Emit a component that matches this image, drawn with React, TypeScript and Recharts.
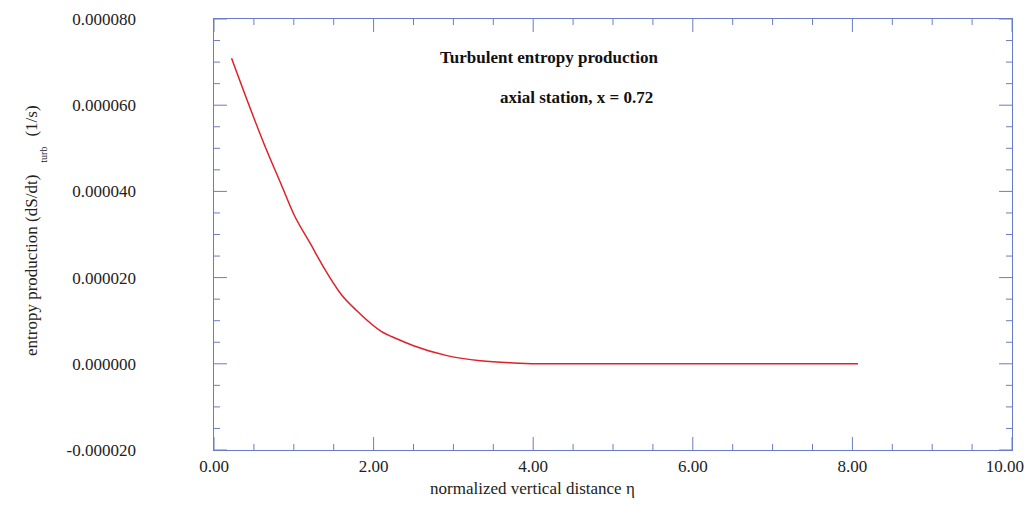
import { LineChart, Line, XAxis, YAxis, ReferenceLine } from 'recharts';

const etaValues = [0.22, 0.63, 0.84, 1.0, 1.21, 1.38, 1.59, 1.79, 2.09, 2.29, 2.5, 2.92, 3.34, 3.75, 4.2, 5.0, 6.0, 7.0, 8.07];
const entropyValues = [7.09e-5, 5.09e-5, 4.17e-5, 3.47e-5, 2.78e-5, 2.22e-5, 1.62e-5, 1.23e-5, 0.76e-5, 0.58e-5, 0.42e-5, 0.19e-5, 0.07e-5, 0.02e-5, 0, 0, 0, 0, 0];
const xMajor = [0, 2, 4, 6, 8, 10];
const xMinor = [0.5, 1, 1.5, 2.5, 3, 3.5, 4.5, 5, 5.5, 6.5, 7, 7.5, 8.5, 9, 9.5];
const yMajor = [-0.00002, 0, 0.00002, 0.00004, 0.00006, 0.00008];
const yMinor = [-0.000015, -0.00001, -0.000005, 0.000005, 0.00001, 0.000015, 0.000025, 0.00003, 0.000035, 0.000045, 0.00005, 0.000055, 0.000065, 0.00007, 0.000075];

const data = etaValues.map((eta, i) => ({ eta, s: entropyValues[i] }));
const axisColor = '#6a7cc8';
const font = '"Liberation Serif", "DejaVu Serif", serif';

// tick lengths in data units (plot is 10 units / 799px wide, 1e-4 / 432px tall)
const xLen = (px: number) => (px * 10) / 799;
const yLen = (px: number) => (px * 1e-4) / 432;

export default function App() {
  const tickStyle = { fill: '#222', fontSize: 17, fontFamily: font };
  const xTick = (v: number, px: number) => [
    <ReferenceLine key={'b' + v} segment={[{ x: v, y: -0.00002 }, { x: v, y: -0.00002 + yLen(px) }]} stroke={axisColor} ifOverflow="visible" />,
    <ReferenceLine key={'t' + v} segment={[{ x: v, y: 0.00008 }, { x: v, y: 0.00008 - yLen(px) }]} stroke={axisColor} ifOverflow="visible" />,
  ];
  const yTick = (v: number, px: number) => [
    <ReferenceLine key={'l' + v} segment={[{ x: 0, y: v }, { x: xLen(px), y: v }]} stroke={axisColor} ifOverflow="visible" />,
    <ReferenceLine key={'r' + v} segment={[{ x: 10, y: v }, { x: 10 - xLen(px), y: v }]} stroke={axisColor} ifOverflow="visible" />,
  ];
  return (
    <div style={{ position: 'absolute', left: 0, top: 0, width: 1024, height: 506, background: '#fff', fontFamily: font }}>
      <LineChart width={1024} height={506} data={data} margin={{ top: 19, right: 12, bottom: 0, left: 64 }}>
        <XAxis type="number" dataKey="eta" domain={[0, 10]} ticks={xMajor} tickFormatter={(v) => v.toFixed(2)}
          axisLine={false} tickLine={false} tick={tickStyle} tickMargin={4} height={56} />
        <YAxis type="number" domain={[-0.00002, 0.00008]} ticks={yMajor} tickFormatter={(v) => v.toFixed(6)}
          axisLine={false} tickLine={false} tick={tickStyle} tickMargin={72} width={150} />
        {xMajor.map((v) => xTick(v, 13))}
        {xMinor.map((v) => xTick(v, 6))}
        {yMajor.map((v) => yTick(v, 13))}
        {yMinor.map((v) => yTick(v, 6))}
        <Line type="monotone" dataKey="s" stroke="#e0202a" strokeWidth={1.5} dot={false} isAnimationActive={false} />
      </LineChart>
      <div style={{ position: 'absolute', left: 213, top: 18, width: 798, height: 431, border: `1px solid ${axisColor}`, pointerEvents: 'none' }} />
      <div style={{ position: 'absolute', left: 440, top: 48, fontSize: 17, fontWeight: 'bold', color: '#111' }}>Turbulent entropy production</div>
      <div style={{ position: 'absolute', left: 500, top: 88, fontSize: 17, fontWeight: 'bold', color: '#111' }}>axial station, x = 0.72</div>
      <div style={{ position: 'absolute', left: 430, top: 479, fontSize: 17, color: '#222' }}>normalized vertical distance η</div>
      <div style={{ position: 'absolute', left: 22, top: 356, transform: 'rotate(-90deg)', transformOrigin: 'left top', whiteSpace: 'nowrap', fontSize: 17, color: '#222' }}>
        entropy production (dS/dt)<span style={{ fontSize: 10, position: 'relative', top: 10, marginLeft: 12 }}>turb</span>
        <span style={{ marginLeft: 10 }}>(1/s)</span>
      </div>
    </div>
  );
}
